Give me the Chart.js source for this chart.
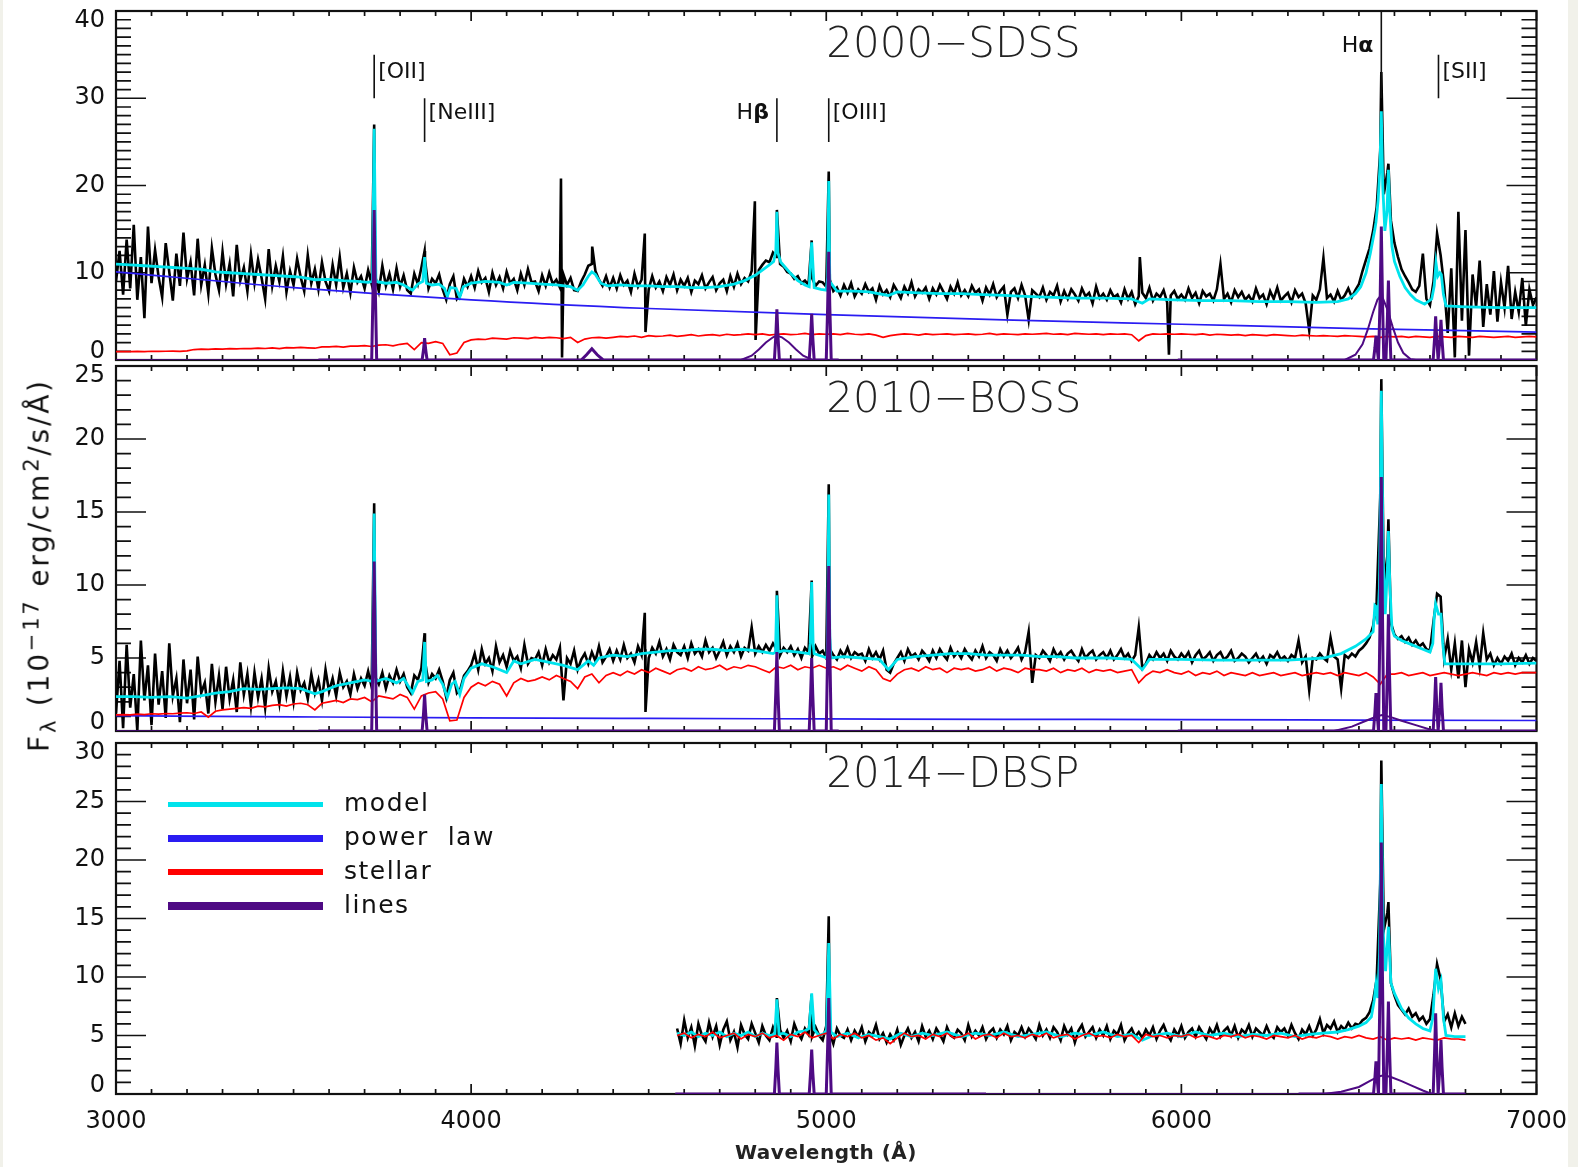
<!DOCTYPE html>
<html><head><meta charset="utf-8">
<script src="https://cdn.jsdelivr.net/npm/chart.js"></script>
<style>
html,body{margin:0;padding:0;background:#f1f1ea;}
#page{position:relative;width:1578px;height:1167px;overflow:hidden;}
#white{position:absolute;left:3px;top:0;width:1565px;height:1167px;background:#fff;}
canvas{position:absolute;left:0;top:0;}
.txt{position:absolute;white-space:nowrap;color:#111;font-family:"DejaVu Sans",sans-serif;}
</style></head><body>
<div id="page"><div id="white"></div>
<canvas id="c1" width="1578" height="1167"></canvas>
<canvas id="c2" width="1578" height="1167"></canvas>
<canvas id="c3" width="1578" height="1167"></canvas>
<div class="txt" id="ylab" style="left:40px;top:565px;transform:translate(-50%,-50%) rotate(-90deg);font-size:28px;letter-spacing:2.8px;">F<sub style="font-size:21px">λ</sub>&nbsp;(10<sup style="font-size:21px">−17</sup>&nbsp;erg/cm<sup style="font-size:21px">2</sup>/s/Å)</div>
<div class="txt" id="xlab" style="left:826px;top:1152px;transform:translate(-50%,-50%);font-size:20px;font-weight:bold;letter-spacing:0.5px;color:#222;">Wavelength (Å)</div>
<div id="legend"></div>
</div>
<script>
// ---------------- DATA ----------------
const xTickLabels = [3000, 4000, 5000, 6000, 7000];
const sdssYTicks = [0, 10, 20, 30, 40];
const bossYTicks = [0, 5, 10, 15, 20, 25];
const dbspYTicks = [0, 5, 10, 15, 20, 25, 30];
const panelTitles = ['2000\u2212SDSS', '2010\u2212BOSS', '2014\u2212DBSP'];
const legendLabels = ['model', 'power\u00a0\u00a0law', 'stellar', 'lines'];

// observed spectra on regular wavelength grids (start, step 10 A)
const sdssObsStart = 3000, bossObsStart = 3000, dbspObsStart = 4580, obsStep = 10;
const sdssObsFlux = [
9.0,12.5,7.5,13.8,8.2,15.5,6.9,11.8,4.8,15.3,
8.8,12.6,9.5,7.2,13.4,10.1,6.8,12.2,8.5,14.6,
9.3,11.2,7.4,13.9,8.6,10.9,7.6,12.8,9.8,8.0,
12.4,8.7,11.0,7.3,13.2,9.1,10.6,7.9,12.1,8.8,
11.5,9.4,7.0,12.7,8.5,10.8,9.0,11.9,7.8,10.2,
8.6,11.6,9.5,7.9,12.0,8.8,10.4,8.1,11.2,9.0,
7.9,10.9,8.6,11.8,8.3,9.9,7.7,10.6,8.9,9.6,
8.2,10.3,8.7,9.6,7.9,10.8,8.5,9.9,8.1,10.5,
8.4,9.7,8.0,7.6,9.9,8.7,10.6,11.5,8.2,9.3,
8.8,9.8,8.1,6.9,8.7,9.6,7.0,7.5,9.3,8.4,
9.6,8.3,10.2,8.9,9.4,7.8,10.0,8.6,9.5,8.2,
10.1,8.8,9.3,8.0,9.9,8.6,10.4,8.9,9.0,7.9,
9.7,8.5,10.0,8.7,9.2,8.3,9.8,8.6,9.4,8.0,
7.9,9.0,9.8,10.8,11.0,10.2,9.2,8.5,9.6,8.3,
9.4,8.2,9.7,8.6,9.1,7.8,9.9,8.4,9.2,8.7,
8.1,9.6,8.3,9.0,7.9,9.5,8.6,9.8,8.0,9.2,
8.5,9.4,7.8,9.1,8.7,9.7,8.2,8.9,9.5,8.0,
8.8,9.2,7.9,9.6,8.4,9.9,8.7,9.4,9.0,10.2,
9.6,10.3,10.9,11.4,11.2,12.3,11.8,11.0,10.7,10.1,
9.9,9.3,9.6,8.8,9.1,8.6,9.4,8.5,9.0,8.9,
8.4,9.2,7.9,8.3,7.4,8.6,7.7,8.8,7.3,8.1,
7.6,8.7,7.8,8.2,6.9,8.5,7.5,8.0,7.2,8.6,
7.9,7.1,8.4,7.6,8.9,7.3,8.1,7.7,8.3,7.0,
8.2,7.5,8.6,7.8,7.0,8.4,7.6,8.9,7.4,8.0,
7.3,8.5,7.7,8.1,6.8,8.3,7.5,8.7,7.2,7.9,
8.4,5.2,7.8,8.2,7.1,8.6,7.4,4.6,8.0,7.6,
7.2,8.3,6.9,7.8,7.4,8.5,6.7,7.9,7.0,8.1,
7.5,6.8,8.2,7.3,7.7,6.5,8.4,7.1,7.6,6.9,
8.0,7.2,7.5,6.6,8.1,7.0,7.8,6.4,7.3,7.7,
7.1,8.3,6.8,7.6,7.2,8.0,6.6,7.4,7.9,7.0,
7.5,6.9,8.2,7.1,7.7,6.5,7.9,7.3,7.6,6.8,
8.1,11.0,7.0,7.6,6.6,8.0,7.2,7.8,6.9,7.4,
6.7,8.2,7.1,7.5,6.4,7.9,7.0,8.3,6.8,7.3,
7.7,6.6,8.0,7.2,7.6,6.5,3.4,7.4,6.9,8.1,
11.7,7.1,7.5,6.7,7.9,6.9,7.4,8.2,7.2,8.0,
8.7,10.2,11.5,12.8,14.8,17.5,24.0,19.0,21.5,16.0,
13.4,11.8,10.4,9.6,8.9,8.1,7.8,8.5,12.2,7.0,
6.3,9.0,14.5,12.0,8.5,3.1,10.5,0.3,17.0,4.5,
14.9,0.5,9.8,6.1,11.4,3.8,8.7,5.2,10.2,4.4,
8.9,6.0,10.8,4.7,7.8,5.5,9.4,3.9,8.1,6.3,
7.2];
const sdssObsSpikes = [[3727,27.0],[3869,12.5],[4253,20.8],[4256,0.3],[4341,13.0],[4489,14.5],[4491,3.2],[4799,18.2],[4801,2.3],[4861,17.2],[4959,13.7],[5007,21.6],[5883,11.8],[5965,0.6],[6563,33.0],[6583,22.5]];

const bossObsFlux = [
1.2,4.8,0.2,5.9,1.6,3.9,0.0,6.2,2.1,4.5,
0.4,5.3,1.8,4.1,0.9,6.0,2.4,3.6,0.6,4.9,
1.9,4.2,0.8,5.1,2.6,3.3,1.2,4.6,2.0,3.8,
1.5,4.4,2.2,3.5,1.3,4.7,2.5,3.9,1.7,4.0,
2.3,3.6,1.6,4.3,2.7,3.4,1.9,4.1,2.4,3.7,
2.0,4.0,2.8,3.3,2.2,3.9,2.6,3.5,2.1,4.2,
2.7,3.6,2.4,4.0,3.0,3.4,2.5,3.9,2.9,3.6,
3.1,4.1,3.0,3.7,3.2,4.0,2.9,3.8,3.3,4.2,
3.4,3.9,3.0,2.6,3.8,3.5,4.3,4.8,3.3,3.9,
3.6,4.2,3.4,2.3,3.5,4.0,2.6,2.9,3.8,4.1,
4.5,5.3,4.2,5.6,4.6,5.0,4.1,5.8,4.7,5.2,
4.4,5.5,4.8,5.1,4.3,5.9,4.6,5.0,4.9,5.4,
4.5,5.6,4.7,5.2,4.9,5.7,2.1,5.0,4.6,5.5,
4.2,4.9,5.3,4.6,5.4,4.8,5.8,4.7,5.1,5.6,
4.8,5.5,4.9,5.9,5.0,5.3,4.7,5.8,5.2,5.6,
5.0,5.7,5.3,6.1,5.1,5.6,4.9,5.9,5.4,5.2,
5.8,5.0,6.0,5.3,5.6,5.1,6.2,5.4,5.7,5.0,
5.5,6.1,5.2,5.8,5.4,6.0,5.1,5.7,5.5,7.1,
5.3,5.8,5.4,5.9,5.5,6.0,5.6,5.2,5.7,5.4,
5.8,5.2,5.6,5.0,5.7,5.4,5.1,5.8,5.3,5.5,
5.0,5.6,5.2,4.9,5.5,5.1,5.7,5.0,5.4,5.2,
5.3,4.8,5.6,5.0,5.4,4.9,5.5,4.2,4.0,4.6,
5.0,5.4,4.8,5.6,5.1,5.3,4.9,5.5,5.2,4.8,
5.5,5.0,5.6,5.2,4.9,5.7,5.1,5.4,5.0,5.6,
5.2,4.9,5.5,5.1,5.8,5.0,5.4,5.2,4.8,5.6,
5.1,5.5,5.0,5.3,5.7,4.9,5.4,6.8,3.3,5.2,
5.0,5.5,5.2,4.8,5.6,5.1,5.4,4.9,5.3,5.5,
5.1,4.8,5.6,5.0,5.3,5.5,4.9,5.2,5.4,5.0,
5.5,4.9,5.2,5.6,5.0,5.3,4.8,5.2,7.1,4.3,
4.6,5.2,4.9,5.4,5.0,5.3,4.8,5.5,5.1,4.9,
5.3,5.0,5.4,4.7,5.2,5.5,4.9,5.1,5.4,4.8,
5.2,5.4,4.9,5.1,5.5,4.8,5.0,5.3,5.1,4.7,
5.0,5.3,4.8,5.1,4.6,5.2,5.0,5.4,4.9,5.1,
4.8,5.2,5.0,6.2,4.7,5.1,2.8,5.0,4.9,5.3,
5.0,4.8,6.4,5.1,4.9,2.9,5.2,5.0,5.3,5.1,
5.5,5.7,6.0,6.4,7.2,9.0,16.0,10.0,12.0,7.4,
6.6,6.3,6.5,6.1,6.4,5.9,6.2,5.8,6.0,5.6,
5.5,7.5,9.4,9.2,5.0,6.3,4.2,6.0,3.6,6.2,
3.0,5.6,4.7,6.1,4.4,6.7,4.9,5.3,4.5,5.0,
4.6,5.1,4.8,5.3,4.5,5.0,4.7,5.2,4.6,5.0,
4.8];
const bossObsSpikes = [[3727,15.6],[3869,6.7],[4489,8.1],[4491,1.3],[4861,9.6],[4959,10.3],[5007,16.9],[6549,8.7],[6563,24.1],[6583,14.5]];

const dbspObsFlux = [
5.6,4.3,6.3,4.8,5.7,4.1,6.0,5.0,4.5,6.1,
4.9,5.8,4.2,5.5,6.2,4.6,5.3,4.0,5.9,5.1,
4.7,6.0,5.2,4.4,5.8,5.0,4.6,5.7,4.9,5.5,
4.8,5.4,4.5,6.0,5.2,4.7,5.6,5.1,4.9,5.7,
5.0,4.6,5.8,5.2,4.3,5.6,5.0,4.8,5.5,4.6,
5.4,4.9,5.7,4.5,5.3,5.0,5.9,4.7,5.2,4.4,
5.1,4.6,5.5,4.2,5.0,5.6,4.8,5.3,4.5,5.8,
4.9,5.4,4.7,5.6,5.1,4.5,5.7,5.0,4.8,5.5,
5.2,4.6,5.9,4.9,5.4,5.0,5.7,4.7,5.3,5.6,
4.8,5.5,5.1,5.8,4.6,5.3,5.0,5.7,4.9,5.6,
5.2,4.7,5.9,5.0,5.5,4.8,5.7,5.3,4.6,5.8,
5.1,5.6,4.4,5.4,5.9,4.9,5.3,5.7,4.8,5.5,
5.0,5.8,4.7,5.4,5.1,5.9,4.6,5.2,5.6,4.9,
5.3,4.8,5.5,5.0,5.7,4.7,5.4,5.9,5.1,4.6,
5.5,5.0,5.8,4.8,5.3,5.6,4.9,5.7,5.2,4.7,
5.6,5.1,5.9,4.9,5.4,5.7,5.0,5.8,4.8,5.5,
5.2,5.9,4.9,5.6,5.3,5.0,5.8,5.1,4.8,5.7,
5.3,5.6,5.0,5.9,5.2,4.7,5.5,5.1,5.8,5.0,
5.5,6.4,5.2,5.9,5.6,6.2,5.3,5.8,5.5,6.1,
5.6,6.0,5.9,6.3,6.5,7.0,8.0,9.8,18.0,14.0,
15.5,9.5,8.4,7.6,7.2,6.8,7.3,6.6,6.9,6.3,
6.6,6.0,6.4,8.5,11.1,9.8,6.2,6.8,5.7,6.9,
5.8,6.6,6.0];
const dbspObsSpikes = [[4861,8.2],[4959,8.5],[5007,15.2],[6563,28.5],[6583,16.4]];

// stellar components on 20 A grids
const stellarStep = 20;
const sdssStellar = [
0.95,0.97,0.95,0.98,0.96,1.0,0.98,1.0,1.02,0.99,
1.05,1.2,1.25,1.22,1.28,1.25,1.3,1.27,1.32,1.3,
1.35,1.32,1.38,1.3,1.42,1.38,1.45,1.4,1.35,1.5,
1.5,1.55,1.48,1.6,1.58,1.65,1.55,1.7,1.75,1.62,
1.8,1.9,1.2,2.0,1.9,2.1,1.9,0.6,0.8,2.0,
2.3,2.4,2.35,2.5,2.45,2.4,2.55,2.5,2.45,2.6,
2.5,2.6,2.55,2.45,2.6,2.0,2.4,2.55,2.6,2.5,
2.6,2.7,2.65,2.75,2.6,2.8,2.7,2.75,2.85,2.7,
2.8,2.9,2.75,2.85,2.9,2.8,2.95,2.85,2.9,3.0,
2.9,3.0,2.85,2.95,3.0,2.9,2.95,3.05,2.9,3.0,
2.95,3.0,2.9,3.05,2.95,2.9,3.0,2.85,2.6,2.8,
2.9,3.0,2.95,2.85,3.0,2.9,2.95,3.0,2.9,2.95,
3.0,2.9,2.95,3.05,2.9,3.0,2.95,2.9,3.0,2.95,
3.0,3.05,2.95,3.0,2.9,3.05,3.0,2.95,3.0,2.9,
3.0,2.95,3.0,2.9,2.2,2.8,3.0,2.95,3.0,2.95,
3.0,2.95,2.9,3.0,2.85,2.95,2.9,2.85,2.9,2.8,
2.9,2.85,2.8,2.9,2.85,2.8,2.75,2.85,2.8,2.75,
2.8,2.75,2.7,2.8,2.75,2.7,2.65,2.7,2.6,2.7,
2.65,2.7,2.6,2.7,2.65,2.6,2.7,2.65,2.6,2.7,
2.65,2.6,2.7,2.65,2.6,2.65,2.7,2.6,2.65,2.7,
2.65];
const bossStellar = [
1.1,1.12,1.1,1.15,1.12,1.18,1.15,1.2,1.18,1.22,
1.25,1.2,1.3,0.95,1.35,1.45,1.5,1.55,1.6,1.55,
1.7,1.65,1.75,1.8,1.7,1.85,1.9,1.8,1.45,1.9,
2.0,2.1,1.95,2.2,2.15,2.3,2.0,2.4,2.3,2.2,
2.5,2.3,1.5,2.4,2.6,2.7,2.2,0.7,0.75,2.3,
3.0,3.3,3.1,3.4,3.2,2.4,3.3,3.6,3.4,3.5,
3.7,3.5,3.8,3.6,3.4,2.9,3.7,3.9,3.3,3.8,
4.0,3.8,4.1,3.9,4.2,4.0,4.3,4.1,3.9,4.2,
4.3,4.1,4.4,4.2,4.3,4.5,4.2,4.4,4.3,4.5,
4.4,4.2,4.0,4.4,4.3,4.5,4.2,4.4,4.3,4.5,
4.3,4.4,4.2,4.5,4.3,4.1,4.4,4.2,3.6,3.4,
3.9,4.2,4.3,4.1,4.4,4.2,4.3,4.0,4.3,4.2,
4.3,4.1,4.2,4.4,4.1,4.3,4.2,4.0,4.3,4.2,
4.2,4.1,4.3,4.0,4.2,4.1,4.3,4.0,4.2,4.1,
4.2,4.0,4.1,4.2,3.3,3.8,4.1,4.0,4.2,4.0,
3.9,4.1,3.8,4.0,3.9,4.1,3.8,4.0,3.9,3.8,
4.0,3.8,3.9,4.0,3.8,3.9,4.0,3.8,3.9,4.0,
3.9,4.0,3.8,4.0,3.9,3.8,4.0,3.7,3.2,3.9,
3.9,4.0,3.8,3.9,4.0,3.8,3.9,4.0,3.9,3.8,
3.9,4.0,3.9,3.8,4.0,3.9,4.0,3.9,4.0,4.0,
4.0];
const dbspStellar = [
5.0,5.2,4.8,5.1,4.9,5.3,4.8,5.0,5.2,4.7,
5.1,4.9,5.2,4.8,5.0,4.6,5.1,4.9,5.3,4.8,
5.0,5.2,4.7,5.1,4.9,5.2,4.8,5.0,4.6,4.8,
4.3,4.8,5.2,4.9,5.0,4.7,5.1,4.9,5.2,4.8,
4.9,5.2,4.7,5.0,5.1,4.8,5.2,4.9,5.0,4.8,
5.1,4.9,5.2,4.8,5.0,5.1,4.7,5.0,5.2,4.9,
5.0,4.8,5.1,4.9,5.0,4.4,5.1,4.9,5.0,4.8,
5.0,4.9,5.1,4.8,5.0,4.9,4.7,5.0,4.9,5.1,
4.8,5.0,4.9,4.7,5.0,4.9,4.8,5.0,4.7,4.9,
4.8,5.0,4.9,4.7,4.9,4.8,5.0,4.8,4.7,4.9,
4.6,4.8,4.7,4.8,4.6,4.8,4.7,4.6,4.8,4.7,
4.7,4.6];

// model fits [wavelength, flux]
const sdssModel = [[3000,11.0],[3040,10.9],[3080,10.8],[3120,10.7],[3160,10.6],[3200,10.5],[3240,10.4],[3280,10.1],[3320,10.0],[3360,9.9],[3400,9.8],[3440,9.7],[3480,9.6],[3520,9.5],[3560,9.2],[3600,9.25],[3640,9.1],[3680,9.0],[3710,8.9],[3722,9.0],[3727,26.5],[3732,9.0],[3760,8.8],[3790,8.9],[3810,8.6],[3835,8.0],[3850,8.7],[3864,9.0],[3869,11.8],[3874,8.8],[3890,8.6],[3910,8.7],[3925,8.2],[3933,7.3],[3942,8.3],[3958,8.2],[3968,7.2],[3978,8.4],[4000,8.8],[4040,9.0],[4080,8.9],[4100,8.6],[4120,8.9],[4160,8.8],[4200,8.7],[4240,8.6],[4280,8.4],[4300,8.0],[4315,8.6],[4330,9.6],[4340,10.1],[4350,9.8],[4365,8.8],[4385,8.5],[4420,8.6],[4460,8.5],[4500,8.5],[4540,8.4],[4580,8.4],[4620,8.3],[4660,8.3],[4700,8.4],[4740,8.7],[4770,9.1],[4800,9.7],[4820,10.3],[4840,10.9],[4852,11.3],[4858,12.5],[4861,17.0],[4864,12.3],[4872,11.2],[4885,10.6],[4900,9.9],[4920,9.1],[4940,8.6],[4952,8.4],[4959,13.5],[4966,8.3],[4985,8.1],[5000,8.0],[5004,9.5],[5007,20.5],[5010,9.0],[5030,7.9],[5080,7.9],[5120,7.8],[5175,7.4],[5200,7.8],[5260,7.7],[5320,7.6],[5380,7.6],[5440,7.5],[5500,7.4],[5560,7.3],[5620,7.2],[5700,7.1],[5780,7.1],[5860,7.0],[5890,6.5],[5910,7.0],[5980,6.9],[6060,6.8],[6140,6.8],[6220,6.7],[6300,6.7],[6380,6.6],[6440,6.7],[6470,7.0],[6490,7.6],[6505,8.4],[6520,10.0],[6532,12.2],[6545,15.0],[6548,15.8],[6554,18.3],[6559,22.0],[6563,28.5],[6567,20.0],[6573,14.8],[6579,17.0],[6583,21.8],[6587,17.0],[6593,13.0],[6600,11.3],[6615,9.6],[6630,8.3],[6645,7.5],[6660,6.9],[6685,6.4],[6705,7.0],[6712,8.5],[6717,11.1],[6722,9.6],[6728,10.0],[6732,9.8],[6738,7.5],[6745,6.2],[6800,6.1],[6900,6.0],[7000,6.0]];
const bossModel = [[3000,2.35],[3050,2.35],[3100,2.3],[3150,2.35],[3200,2.25],[3250,2.45],[3280,2.6],[3320,2.7],[3360,2.9],[3400,2.85],[3440,2.9],[3480,2.95],[3520,2.9],[3560,2.55],[3580,2.7],[3620,3.1],[3660,3.3],[3700,3.5],[3722,3.4],[3727,14.9],[3732,3.4],[3760,3.6],[3790,3.3],[3810,3.6],[3835,2.6],[3850,3.4],[3864,3.5],[3869,6.1],[3874,3.4],[3890,3.5],[3905,3.8],[3920,3.2],[3933,2.3],[3945,3.2],[3955,3.4],[3968,2.5],[3980,3.6],[4000,4.3],[4030,4.6],[4060,4.4],[4100,4.0],[4120,4.8],[4140,4.6],[4180,4.9],[4220,4.7],[4260,4.5],[4300,4.2],[4330,4.8],[4345,4.5],[4360,5.0],[4400,5.2],[4440,5.1],[4480,5.3],[4520,5.4],[4560,5.5],[4600,5.5],[4640,5.6],[4680,5.6],[4720,5.5],[4760,5.6],[4800,5.5],[4850,5.3],[4857,5.4],[4861,9.3],[4865,5.4],[4880,5.5],[4920,5.4],[4952,5.3],[4955,6.0],[4959,10.2],[4963,6.0],[4966,5.3],[4990,5.1],[5002,5.0],[5004,6.5],[5007,16.2],[5010,6.5],[5013,5.0],[5050,5.1],[5100,5.0],[5150,4.9],[5175,4.2],[5200,4.9],[5250,5.1],[5300,5.2],[5350,5.3],[5400,5.3],[5450,5.2],[5500,5.2],[5550,5.2],[5600,5.1],[5650,5.1],[5700,5.0],[5750,5.0],[5800,5.0],[5860,4.9],[5890,4.2],[5910,4.9],[5960,4.9],[6000,4.9],[6100,4.85],[6200,4.85],[6300,4.85],[6400,5.0],[6450,5.3],[6490,5.8],[6520,6.3],[6540,6.8],[6545,8.6],[6549,8.5],[6553,7.3],[6558,10.0],[6563,23.3],[6568,12.0],[6574,8.0],[6580,11.0],[6583,13.7],[6587,10.0],[6593,7.0],[6600,6.5],[6620,6.2],[6650,5.9],[6680,5.6],[6700,5.4],[6708,6.0],[6712,7.8],[6716,8.7],[6724,8.0],[6731,8.0],[6736,6.0],[6742,4.6],[6800,4.6],[6900,4.6],[7000,4.65]];
const dbspModel = [[4580,5.2],[4600,5.0],[4620,5.3],[4640,4.9],[4660,5.2],[4680,5.0],[4700,5.3],[4720,4.9],[4740,5.2],[4760,5.0],[4780,5.3],[4800,4.9],[4820,5.2],[4840,5.0],[4855,5.1],[4861,8.1],[4867,5.1],[4880,5.2],[4900,4.9],[4920,5.3],[4940,5.4],[4952,5.6],[4959,8.6],[4966,5.5],[4980,5.0],[4995,5.2],[5001,5.5],[5007,12.9],[5013,5.3],[5030,4.9],[5060,5.2],[5090,4.8],[5120,5.1],[5150,4.9],[5180,4.7],[5210,5.2],[5240,4.9],[5270,5.2],[5300,5.0],[5340,5.3],[5380,4.9],[5420,5.2],[5460,5.0],[5500,5.3],[5540,4.9],[5580,5.1],[5620,5.3],[5660,4.9],[5700,5.2],[5740,5.0],[5780,5.3],[5820,4.9],[5860,5.1],[5890,4.6],[5920,5.0],[5960,5.2],[6000,4.9],[6040,5.3],[6080,5.0],[6120,5.2],[6160,4.9],[6200,5.1],[6240,5.0],[6280,5.2],[6320,4.9],[6360,5.1],[6400,5.2],[6440,5.3],[6470,5.5],[6500,5.8],[6520,6.1],[6535,6.6],[6543,8.0],[6548,9.4],[6553,8.2],[6558,12.0],[6563,26.5],[6568,14.0],[6575,10.5],[6583,14.3],[6590,9.5],[6600,8.6],[6620,7.3],[6640,6.5],[6660,6.0],[6680,5.6],[6700,5.4],[6708,6.5],[6716,10.7],[6724,9.0],[6731,9.7],[6738,6.5],[6745,5.0],[6770,4.9],[6800,4.9]];

// power-law continua
const sdssPowerLaw = [[3000,10.1],[3500,8.3],[4000,6.9],[4500,5.9],[5000,5.2],[5500,4.6],[6000,4.1],[6500,3.6],[7000,3.2]];
const bossPowerLaw = [[3000,1.05],[3500,0.97],[4000,0.9],[4500,0.86],[5000,0.83],[5500,0.8],[6000,0.78],[6500,0.75],[7000,0.72]];

// emission-line components
const sdssLinesZero = [[3000,0],[7000,0]];
const sdssLinesBlue = [[3570,0],[3720,0],[3724,8.5],[3727,17.2],[3730,8.5],[3734,0],[3862,0],[3866,1.2],[3869,2.5],[3872,1.2],[3876,0],[4310,0],[4325,0.6],[4340,1.3],[4355,0.6],[4372,0],[4854,0],[4858,2.8],[4861,5.8],[4864,2.8],[4868,0],[4952,0],[4956,2.6],[4959,5.3],[4962,2.6],[4966,0],[5000,0],[5004,6.2],[5007,12.4],[5010,6.2],[5014,0],[5035,0]];
const sdssLinesRed = [[5990,0],[6541,0],[6545,1.4],[6548,2.8],[6551,1.4],[6555,0],[6556,0],[6560,7.6],[6563,15.3],[6566,7.6],[6570,0],[6576,0],[6580,4.6],[6583,9.1],[6586,4.6],[6590,0],[6709,0],[6713,2.5],[6716,5.0],[6719,2.5],[6723,0],[6724,0],[6728,2.3],[6731,4.6],[6734,2.3],[6738,0],[7000,0]];
const sdssHbBroad = [[4760,0],[4790,0.5],[4810,1.2],[4830,2.0],[4850,2.6],[4861,2.8],[4875,2.6],[4895,2.0],[4915,1.2],[4935,0.5],[4962,0]];
const sdssHaBroad = [[6460,0],[6490,0.6],[6510,1.8],[6525,3.5],[6540,5.5],[6552,6.9],[6560,7.3],[6568,7.0],[6580,5.8],[6595,3.8],[6610,2.0],[6625,0.8],[6645,0.1],[6660,0]];

const bossLinesZero = [[3000,0],[7000,0]];
const bossLinesBlue = [[3570,0],[3720,0],[3724,5.8],[3727,11.6],[3730,5.8],[3734,0],[3862,0],[3866,1.2],[3869,2.5],[3872,1.2],[3876,0],[4854,0],[4858,2.7],[4861,5.4],[4864,2.7],[4868,0],[4952,0],[4956,2.5],[4959,5.0],[4962,2.5],[4966,0],[5000,0],[5004,5.6],[5007,11.3],[5010,5.6],[5014,0],[5035,0]];
const bossLinesRed = [[5990,0],[6541,0],[6545,1.3],[6548,2.6],[6551,1.3],[6555,0],[6556,0],[6560,8.7],[6563,17.4],[6566,8.7],[6570,0],[6576,0],[6580,4.0],[6583,8.0],[6586,4.0],[6590,0],[6709,0],[6713,1.8],[6716,3.7],[6719,1.8],[6723,0],[6724,0],[6728,1.6],[6731,3.3],[6734,1.6],[6738,0],[7000,0]];
const bossHaBroad = [[6430,0],[6480,0.3],[6520,0.7],[6550,1.0],[6565,1.1],[6590,0.95],[6620,0.7],[6660,0.4],[6700,0.1],[6730,0]];

const dbspLinesZero = [[4575,0],[6800,0]];
const dbspLinesBlue = [[4575,0],[4854,0],[4858,2.2],[4861,4.4],[4864,2.2],[4868,0],[4952,0],[4956,1.9],[4959,3.8],[4962,1.9],[4966,0],[5000,0],[5004,4.1],[5007,8.2],[5010,4.1],[5014,0],[5450,0]];
const dbspLinesRed = [[6330,0],[6541,0],[6545,1.4],[6548,2.8],[6551,1.4],[6555,0],[6556,0],[6560,10.7],[6563,21.5],[6566,10.7],[6570,0],[6576,0],[6580,4.0],[6583,7.9],[6586,4.0],[6590,0],[6709,0],[6713,3.5],[6716,6.9],[6719,3.5],[6723,0],[6724,0],[6728,2.3],[6731,4.6],[6734,2.3],[6738,0],[6800,0]];
const dbspHaBroad = [[6400,0],[6450,0.2],[6500,0.6],[6530,1.1],[6555,1.5],[6570,1.6],[6590,1.45],[6620,1.1],[6650,0.7],[6680,0.3],[6705,0]];

// line identification markers (top panel)
const markerNames = ['[OII]', '[NeIII]', 'H\u03b2', '[OIII]', 'H\u03b1', '[SII]'];
const markerWave = [3727, 3869, 4861, 5007, 6563, 6724];
const markerTop = [35, 30, 30, 30, 40, 35];
const markerBottom = [30, 25, 25, 25, 30, 30];

// ---------------- STYLE / LAYOUT ----------------
const COL = {obs:'#000000', model:'#00E3EC', power:'#2A1CF2', stellar:'#FF0000', lines:'#4E0A84'};
const markerLabelLayout = [{side:1,y:33.0},{side:1,y:28.3},{side:-1,y:28.3},{side:1,y:28.3},{side:-1,y:35.9},{side:1,y:33.0}];
const PAGE_H = 1167;

const grid = (start, step, vals) => vals.map((v, i) => ({x: start + i * step, y: v}));
const pairs = arr => arr.map(p => ({x: p[0], y: p[1]}));
const withSpikes = (g, s) => g.concat(pairs(s)).sort((a, b) => a.x - b.x);
function ds(data, color, width, extra) {
  return Object.assign({data: data, borderColor: color, borderWidth: width, pointRadius: 0,
    fill: false, tension: 0, spanGaps: false, borderJoinStyle: 'miter'}, extra || {});
}

const idlFrame = {
  id: 'idlFrame',
  beforeDatasetsDraw(chart, args, o) {
    const ctx = chart.ctx, a = chart.chartArea, xs = chart.scales.x, ys = chart.scales.y;
    ctx.save();
    ctx.strokeStyle = '#111';
    ctx.lineWidth = 1.7;
    ctx.beginPath();
    for (let w = xs.min; w <= xs.max + 1e-6; w += o.xMinorStep) {
      const px = xs.getPixelForValue(w);
      const L = (Math.abs(w % o.xMajorStep) < 1e-6) ? 10 : 5;
      ctx.moveTo(px, a.bottom); ctx.lineTo(px, a.bottom - L);
      ctx.moveTo(px, a.top); ctx.lineTo(px, a.top + L);
    }
    for (let v = ys.min; v <= ys.max + 1e-6; v += o.yMinorStep) {
      const py = ys.getPixelForValue(v);
      const L = o.yTicks.indexOf(Math.round(v)) >= 0 ? 30 : 15;
      ctx.moveTo(a.left, py); ctx.lineTo(a.left + L, py);
      ctx.moveTo(a.right, py); ctx.lineTo(a.right - L, py);
    }
    ctx.stroke();
    ctx.lineWidth = 2.2;
    ctx.strokeRect(a.left, a.top, a.right - a.left, a.bottom - a.top);
    ctx.restore();
  },
  afterDatasetsDraw(chart, args, o) {
    const ctx = chart.ctx, a = chart.chartArea, xs = chart.scales.x, ys = chart.scales.y;
    ctx.save();
    ctx.fillStyle = '#111';
    ctx.font = '24px "DejaVu Sans"';
    ctx.textAlign = 'right'; ctx.textBaseline = 'middle';
    o.yTicks.forEach((v, i) => {
      let py = ys.getPixelForValue(v);
      if (i === 0) py -= 8;
      if (i === o.yTicks.length - 1) py += 10;
      ctx.fillText(String(v), a.left - 11, py);
    });
    if (o.xLabels) {
      ctx.textAlign = 'center';
      o.xLabels.forEach(v => ctx.fillText(String(v), xs.getPixelForValue(v), a.bottom + 28));
    }
    ctx.font = '200 42px "DejaVu Sans"';
    ctx.textAlign = 'left';
    ctx.fillStyle = '#222';
    ctx.fillText(o.title, xs.getPixelForValue(5000), a.top + o.titleDy);
    if (o.markers) {
      ctx.fillStyle = '#111';
      o.markers.names.forEach((name, i) => {
        const lay = o.markers.layout[i];
        const px = xs.getPixelForValue(o.markers.waves[i]);
        const py = ys.getPixelForValue(lay.y);
        if (lay.side > 0) {
          ctx.font = '22px "DejaVu Sans"'; ctx.textAlign = 'left';
          ctx.fillText(name, px + 4, py);
        } else {
          const greek = name.slice(1), base = name.slice(0, 1);
          ctx.font = 'bold 22px "DejaVu Sans"'; ctx.textAlign = 'right';
          ctx.fillText(greek, px - 8, py);
          const gw = ctx.measureText(greek).width;
          ctx.font = '22px "DejaVu Sans"';
          ctx.fillText(base, px - 8 - gw, py);
        }
      });
    }
    ctx.restore();
  }
};

function makePanel(id, top, bottom, yMax, datasets, frameOpts) {
  return new Chart(document.getElementById(id), {
    type: 'line',
    data: {datasets: datasets},
    options: {
      responsive: false, animation: false, devicePixelRatio: 1,
      layout: {padding: {left: 116, right: 41.5, top: top, bottom: PAGE_H - bottom}},
      scales: {
        x: {type: 'linear', min: 3000, max: 7000, display: false},
        y: {type: 'linear', min: 0, max: yMax, display: false}
      },
      plugins: {legend: {display: false}, tooltip: {enabled: false}, idlFrame: frameOpts},
      events: []
    },
    plugins: [idlFrame]
  });
}

function markerData() {
  const out = [];
  markerWave.forEach((w, i) => { out.push({x: w, y: markerTop[i]}, {x: w, y: markerBottom[i]}, {x: w + 1, y: null}); });
  return out;
}

const OBS_W = 2.6;
// Panel 1 : 2000-SDSS
makePanel('c1', 11, 360, 40, [
  ds(markerData(), '#111', 1.6),
  ds(pairs(sdssLinesBlue), COL.lines, 3),
  ds(pairs(sdssLinesRed), COL.lines, 3),
  ds(pairs(sdssHbBroad), COL.lines, 2),
  ds(pairs(sdssHaBroad), COL.lines, 2),
  ds(pairs(sdssLinesZero), COL.lines, 1.6),
  ds(grid(3000, stellarStep, sdssStellar), COL.stellar, 1.7),
  ds(pairs(sdssPowerLaw), COL.power, 1.7, {cubicInterpolationMode: 'monotone'}),
  ds(pairs(sdssModel), COL.model, 2.8),
  ds(withSpikes(grid(sdssObsStart, obsStep, sdssObsFlux), sdssObsSpikes), COL.obs, OBS_W)
], {title: panelTitles[0], titleDy: 35, yTicks: sdssYTicks, yMinorStep: 1, xMinorStep: 100, xMajorStep: 1000,
    markers: {names: markerNames, waves: markerWave, layout: markerLabelLayout}});

// Panel 2 : 2010-BOSS
makePanel('c2', 366, 731, 25, [
  ds(pairs(bossLinesBlue), COL.lines, 3),
  ds(pairs(bossLinesRed), COL.lines, 3),
  ds(pairs(bossHaBroad), COL.lines, 2),
  ds(pairs(bossLinesZero), COL.lines, 1.6),
  ds(grid(3000, stellarStep, bossStellar), COL.stellar, 1.7),
  ds(pairs(bossPowerLaw), COL.power, 1.7, {cubicInterpolationMode: 'monotone'}),
  ds(pairs(bossModel), COL.model, 2.8),
  ds(withSpikes(grid(bossObsStart, obsStep, bossObsFlux), bossObsSpikes), COL.obs, OBS_W)
], {title: panelTitles[1], titleDy: 35, yTicks: bossYTicks, yMinorStep: 1, xMinorStep: 100, xMajorStep: 1000});

// Panel 3 : 2014-DBSP
makePanel('c3', 743, 1094, 30, [
  ds(pairs(dbspLinesBlue), COL.lines, 3),
  ds(pairs(dbspLinesRed), COL.lines, 3),
  ds(pairs(dbspHaBroad), COL.lines, 2),
  ds(pairs(dbspLinesZero), COL.lines, 1.6),
  ds(grid(4580, stellarStep, dbspStellar), COL.stellar, 1.7),
  ds(pairs(dbspModel), COL.model, 2.8),
  ds(withSpikes(grid(dbspObsStart, obsStep, dbspObsFlux), dbspObsSpikes), COL.obs, OBS_W)
], {title: panelTitles[2], titleDy: 33, yTicks: dbspYTicks, yMinorStep: 1, xMinorStep: 100, xMajorStep: 1000,
    xLabels: xTickLabels});

// legend (inside bottom panel)
const legendColors = [COL.model, COL.power, COL.stellar, COL.lines];
const legendLayout = [{y: 804, h: 5}, {y: 838, h: 7}, {y: 872, h: 6}, {y: 906, h: 8}];
const leg = document.getElementById('legend');
legendLabels.forEach((lab, i) => {
  const bar = document.createElement('div');
  bar.style.cssText = 'position:absolute;left:168px;width:155px;top:' + (legendLayout[i].y - legendLayout[i].h / 2) + 'px;height:' + legendLayout[i].h + 'px;background:' + legendColors[i] + ';';
  leg.appendChild(bar);
  const t = document.createElement('div');
  t.className = 'txt';
  t.style.cssText = 'left:344px;top:' + legendLayout[i].y + 'px;transform:translateY(-55%);font-size:25px;letter-spacing:1.5px;line-height:1;';
  t.textContent = lab;
  leg.appendChild(t);
});
</script>
</body></html>
